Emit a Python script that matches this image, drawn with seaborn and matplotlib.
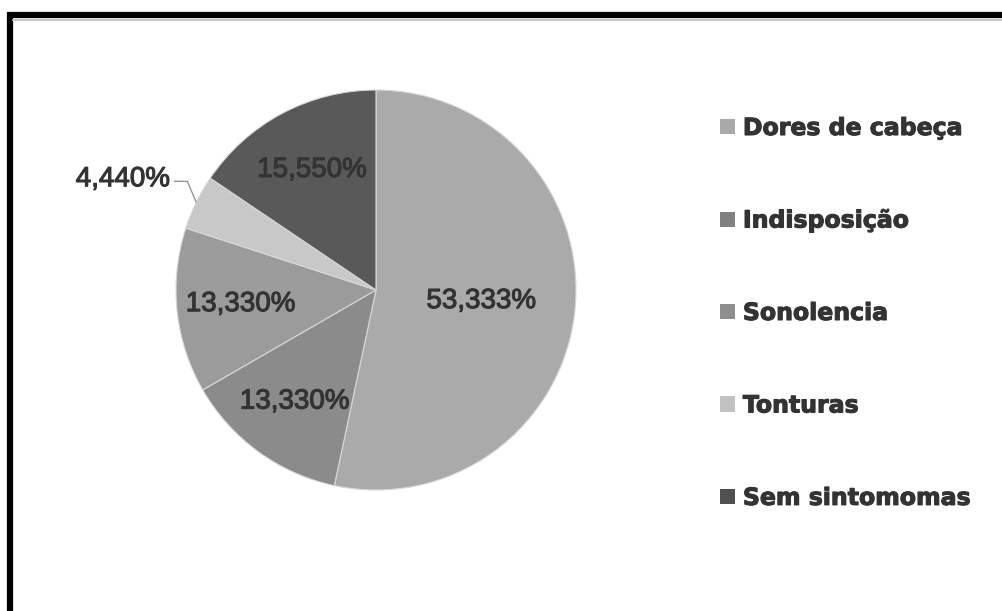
import numpy as np
import matplotlib
matplotlib.use("Agg")
import matplotlib.pyplot as plt
from matplotlib.patches import Patch
from matplotlib.lines import Line2D
import matplotlib.patheffects as pe
import seaborn as sns

# ---- data ----
categories = ["Dores de cabeça", "Indisposição", "Sonolencia", "Tonturas", "Sem sintomomas"]
values = [53.333, 13.330, 13.330, 4.440, 15.550]
value_labels = ["53,333%", "13,330%", "13,330%", "4,440%", "15,550%"]
wedge_colors = ["#aaaaaa", "#8b8b8b", "#9b9b9b", "#c8c8c8", "#595959"]
legend_colors = ["#a9a9a9", "#808080", "#8e8e8e", "#c2c2c2", "#505050"]

sns.set_theme(style="white")
plt.rcParams["font.family"] = ["Liberation Sans", "DejaVu Sans"]

W, H = 1002, 611
fig = plt.figure(figsize=(W / 100, H / 100), dpi=100)
fig.patch.set_facecolor("white")

# pie axes: center (376,290) px, radius 200 px
cx, cy, r = 376, 290, 200
ax = fig.add_axes([(cx - r) / W, 1 - (cy + r) / H, 2 * r / W, 2 * r / H])

wedges, _ = ax.pie(values, colors=wedge_colors, startangle=90, counterclock=False,
                   radius=1.0, wedgeprops=dict(edgecolor="#d8d8d8", linewidth=0.8))
ax.set_xlim(-1, 1)
ax.set_ylim(-1, 1)
ax.set_aspect("equal")
ax.axis("off")

text_color = "#333333"
lab_font = dict(family=["Liberation Sans", "DejaVu Sans"], size=20, weight="normal")
thick = [pe.withStroke(linewidth=0.8, foreground=text_color)]
label_dist = [0.53, 0.69, 0.68, None, 0.68]
for w, lab, d in zip(wedges, value_labels, label_dist):
    mid = np.deg2rad((w.theta1 + w.theta2) / 2)
    if d is None:
        # outside label with leader line
        ex, ey = np.cos(mid), np.sin(mid)
        kx, ky = ex - 0.045, ey + 0.105
        hx = kx - 0.065
        ax.plot([ex, kx, hx], [ey, ky, ky], color="#8a8a8a", lw=0.9, clip_on=False)
        ax.text(hx - 0.02, ky + 0.01, lab, ha="right", va="center", color=text_color,
                clip_on=False, path_effects=thick, **lab_font)
    else:
        ax.text(d * np.cos(mid), d * np.sin(mid), lab, ha="center", va="center",
                color=text_color, path_effects=thick, **lab_font)

# legend
handles = [Patch(facecolor=c, edgecolor="none") for c in legend_colors]
leg = fig.legend(handles, categories, loc="upper left",
                 bbox_to_anchor=(720 / W, 1 - 116 / H), frameon=False,
                 prop=dict(family="DejaVu Sans", weight="bold", size=17),
                 handlelength=0.62, handleheight=0.62, handletextpad=0.35,
                 labelspacing=2.9, borderpad=0, borderaxespad=0)
for t in leg.get_texts():
    t.set_color(text_color)
    t.set_path_effects([pe.withStroke(linewidth=0.8, foreground=text_color)])

# black border (top and left)
fig.add_artist(Line2D([7 / W, 1.0], [1 - 15 / H, 1 - 15 / H], color="black", lw=4.5,
                      transform=fig.transFigure, solid_capstyle="butt"))
fig.add_artist(Line2D([10 / W, 10 / W], [1 - 12 / H, 0.0], color="black", lw=4.5,
                      transform=fig.transFigure, solid_capstyle="butt"))
fig.add_artist(Line2D([13 / W, 1.0], [1 - 19.5 / H, 1 - 19.5 / H], color="#c8c8c8", lw=1.5,
                      transform=fig.transFigure))

fig.savefig("out.png", dpi=100, facecolor="white")
